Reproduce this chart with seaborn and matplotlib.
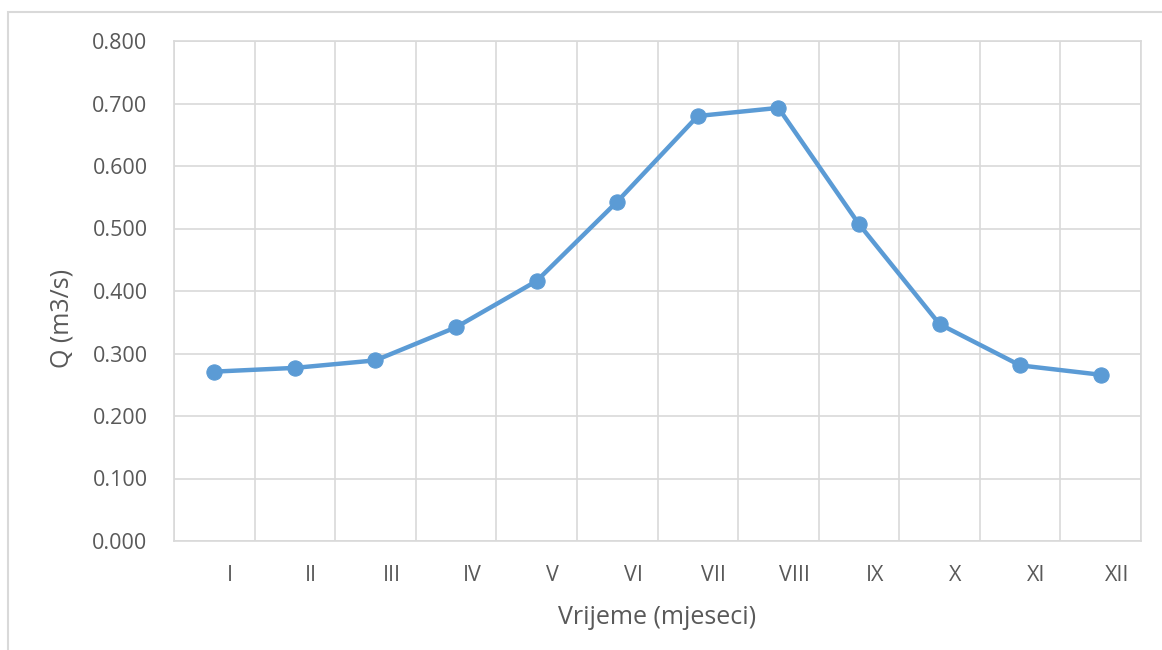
import matplotlib
matplotlib.use("Agg")
import matplotlib.pyplot as plt
import matplotlib.transforms as mtransforms
from matplotlib.patches import Rectangle
from matplotlib.ticker import FixedLocator, FormatStrFormatter
import numpy as np
import pandas as pd
import seaborn as sns

months = ["I", "II", "III", "IV", "V", "VI", "VII", "VIII", "IX", "X", "XI", "XII"]
flow = [0.271, 0.277, 0.289, 0.342, 0.416, 0.543, 0.680, 0.693, 0.507, 0.347, 0.281, 0.266]
y_ticks = [0.0, 0.1, 0.2, 0.3, 0.4, 0.5, 0.6, 0.7, 0.8]

sns.set_style("white")
plt.rcParams["font.family"] = ["Open Sans", "DejaVu Sans"]

df = pd.DataFrame({"pos": np.arange(len(months)), "Q": flow})

fig = plt.figure(figsize=(11.62, 6.5), dpi=100)
ax = fig.add_axes([174 / 1162, 1 - 541 / 650, (1141 - 174) / 1162, 500 / 650])

grid_c = "#D9D9D9"
text_c = "#595959"
blue = "#5B9BD5"

sns.lineplot(data=df, x="pos", y="Q", ax=ax, color=blue, linewidth=3.2,
             marker="o", markersize=11, markeredgecolor=blue, zorder=3)

ax.set_xlim(-0.5, len(months) - 0.5)
ax.set_ylim(0, 0.8)
ax.set_yticks(y_ticks)
ax.yaxis.set_major_formatter(FormatStrFormatter("%.3f"))
ax.set_xticks(df["pos"])
ax.set_xticklabels(months)
ax.xaxis.set_minor_locator(FixedLocator(np.arange(-0.5, len(months), 1.0)))

ax.grid(False)
ax.grid(which="minor", axis="x", color=grid_c, linewidth=1.2)
ax.grid(which="major", axis="y", color=grid_c, linewidth=1.2)
ax.tick_params(which="both", length=0)
ax.tick_params(axis="y", labelsize=15.5, labelcolor=text_c, pad=19)
ax.tick_params(axis="x", labelsize=15.5, labelcolor=text_c, pad=17)
for s in ax.spines.values():
    s.set_color(grid_c)
    s.set_linewidth(1.2)

# Excel places the category labels a bit right of the points
shift = mtransforms.ScaledTranslation(16 / 100, 0, fig.dpi_scale_trans)
for lab in ax.get_xticklabels():
    lab.set_transform(lab.get_transform() + shift)

ax.set_xlabel("Vrijeme (mjeseci)", fontsize=18, color=text_c)
ax.set_ylabel("Q (m3/s)", fontsize=18, color=text_c)
ax.xaxis.label.set_va("center")
ax.yaxis.label.set_va("center")
ax.xaxis.set_label_coords(0.5, -0.152)
ax.yaxis.set_label_coords(-0.116, 0.446)

fig.patches.append(Rectangle((8 / 1162, -0.02), 1.05, 1 - 12 / 650 + 0.02,
                             transform=fig.transFigure, fill=False,
                             edgecolor=grid_c, linewidth=1.5))

fig.savefig("out.png", dpi=100)
